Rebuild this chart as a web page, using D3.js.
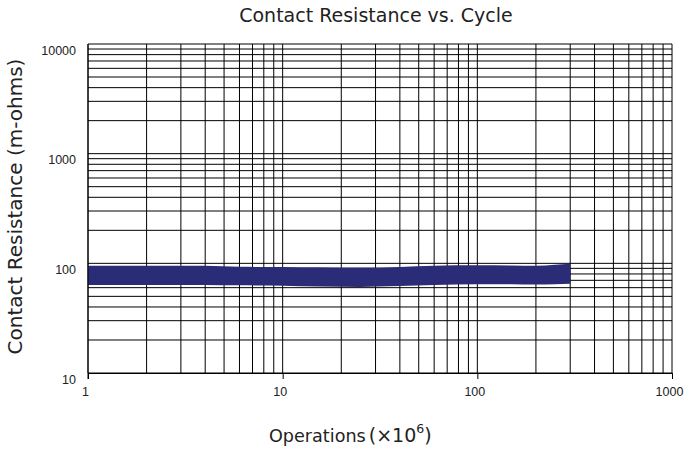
<!DOCTYPE html>
<html>
<head>
<meta charset="utf-8">
<script src="https://cdn.jsdelivr.net/npm/d3@7"></script>
<style>
  body { margin: 0; background: #fff; }
  svg { display: block; font-family: "DejaVu Sans", Verdana, sans-serif; }
</style>
</head>
<body>
<div id="container"></div>
<script>
//chart values
var cycles = [1, 2, 4, 6, 10, 15, 25, 40, 60, 100, 150, 200, 250, 300];
var resistanceHigh = [95, 95, 95, 93, 92.5, 92, 91.5, 92.5, 95, 96, 95.5, 95, 97, 99];
var resistanceLow = [63.5, 63.5, 63.5, 63, 62.5, 61.5, 61, 62, 63.5, 64.5, 64.5, 64, 64.5, 65];
var xTicks = [1, 10, 100, 1000];
var yTicks = [10, 100, 1000, 10000];

//chart dimensions + margins
var margin = {top: 44, right: 16, bottom: 81, left: 88};
var w = 688, h = 454;
var width = w - margin.left - margin.right;
var height = h - margin.top - margin.bottom;

var svg = d3.select("#container")
    .append("svg")
    .attr("width", w)
    .attr("height", h)
    .append("g")
    .attr("transform", "translate(" + margin.left + "," + margin.top + ")");

var x = d3.scaleLog().domain([1, 1000]).range([0, width]);
var y = d3.scaleLog().domain([10, 10000]).range([height, 0]);

//minor + major grid values for every decade
function gridValues(lo, hi) {
    var out = [];
    for (var d = lo; d < hi; d *= 10) {
        for (var k = 1; k < 10; k++) out.push(d * k);
    }
    out.push(hi);
    return out;
}

//vertical grid
svg.append("g")
    .selectAll("line")
    .data(gridValues(1, 1000))
    .enter().append("line")
    .attr("x1", function(d) { return x(d); })
    .attr("x2", function(d) { return x(d); })
    .attr("y1", 0)
    .attr("y2", height)
    .attr("stroke", "#000")
    .attr("stroke-width", 1);

//horizontal grid
svg.append("g")
    .selectAll("line")
    .data(gridValues(10, 10000))
    .enter().append("line")
    .attr("x1", 0)
    .attr("x2", width)
    .attr("y1", function(d) { return y(d); })
    .attr("y2", function(d) { return y(d); })
    .attr("stroke", "#000")
    .attr("stroke-width", 1);

//resistance band
var bandData = cycles.map(function(c, i) {
    return {c: c, hi: resistanceHigh[i], lo: resistanceLow[i]};
});
var area = d3.area()
    .x(function(d) { return x(d.c); })
    .y0(function(d) { return y(d.lo); })
    .y1(function(d) { return y(d.hi); })
    .curve(d3.curveMonotoneX);
svg.append("path")
    .datum(bandData)
    .attr("d", area)
    .attr("fill", "#2b2c77");

//x axis
svg.append("g")
    .attr("transform", "translate(0," + height + ")")
    .call(d3.axisBottom(x).tickValues(xTicks).tickFormat(d3.format("d")).tickSize(6).tickPadding(8))
    .call(function(g) {
        g.select(".domain").attr("stroke", "#000");
        g.selectAll(".tick text").attr("font-size", 12.5).attr("fill", "#222").attr("dx", -3);
    });

//y axis
svg.append("g")
    .call(d3.axisLeft(y).tickValues(yTicks).tickFormat(d3.format("d")).tickSize(0).tickPadding(12))
    .call(function(g) {
        g.select(".domain").remove();
        g.selectAll(".tick text").attr("font-size", 12.5).attr("fill", "#222").attr("dy", "0.8em");
    });
svg.append("line")
    .attr("x1", 0).attr("x2", 0)
    .attr("y1", 0).attr("y2", height + 6)
    .attr("stroke", "#000");

//title
svg.append("text")
    .attr("x", width / 2 - 4)
    .attr("y", 22 - margin.top)
    .attr("text-anchor", "middle")
    .attr("font-size", 19)
    .attr("fill", "#222")
    .text("Contact Resistance vs. Cycle");

//x axis label
var xl = svg.append("text")
    .attr("x", 181)
    .attr("y", height + 69)
    .attr("text-anchor", "start")
    .attr("font-size", 17.6)
    .attr("fill", "#222");
xl.append("tspan").text("Operations");
xl.append("tspan").attr("dx", 3).attr("font-size", 19).text("(×10");
xl.append("tspan").attr("font-size", 12.5).attr("dy", -9).text("6");
xl.append("tspan").attr("dy", 9).attr("font-size", 19).text(")");

//y axis label
svg.append("text")
    .attr("transform", "rotate(-90)")
    .attr("x", -(height / 2) + 2)
    .attr("y", -66)
    .attr("text-anchor", "middle")
    .attr("font-size", 20)
    .attr("fill", "#222")
    .text("Contact Resistance (m-ohms)");
</script>
</body>
</html>
